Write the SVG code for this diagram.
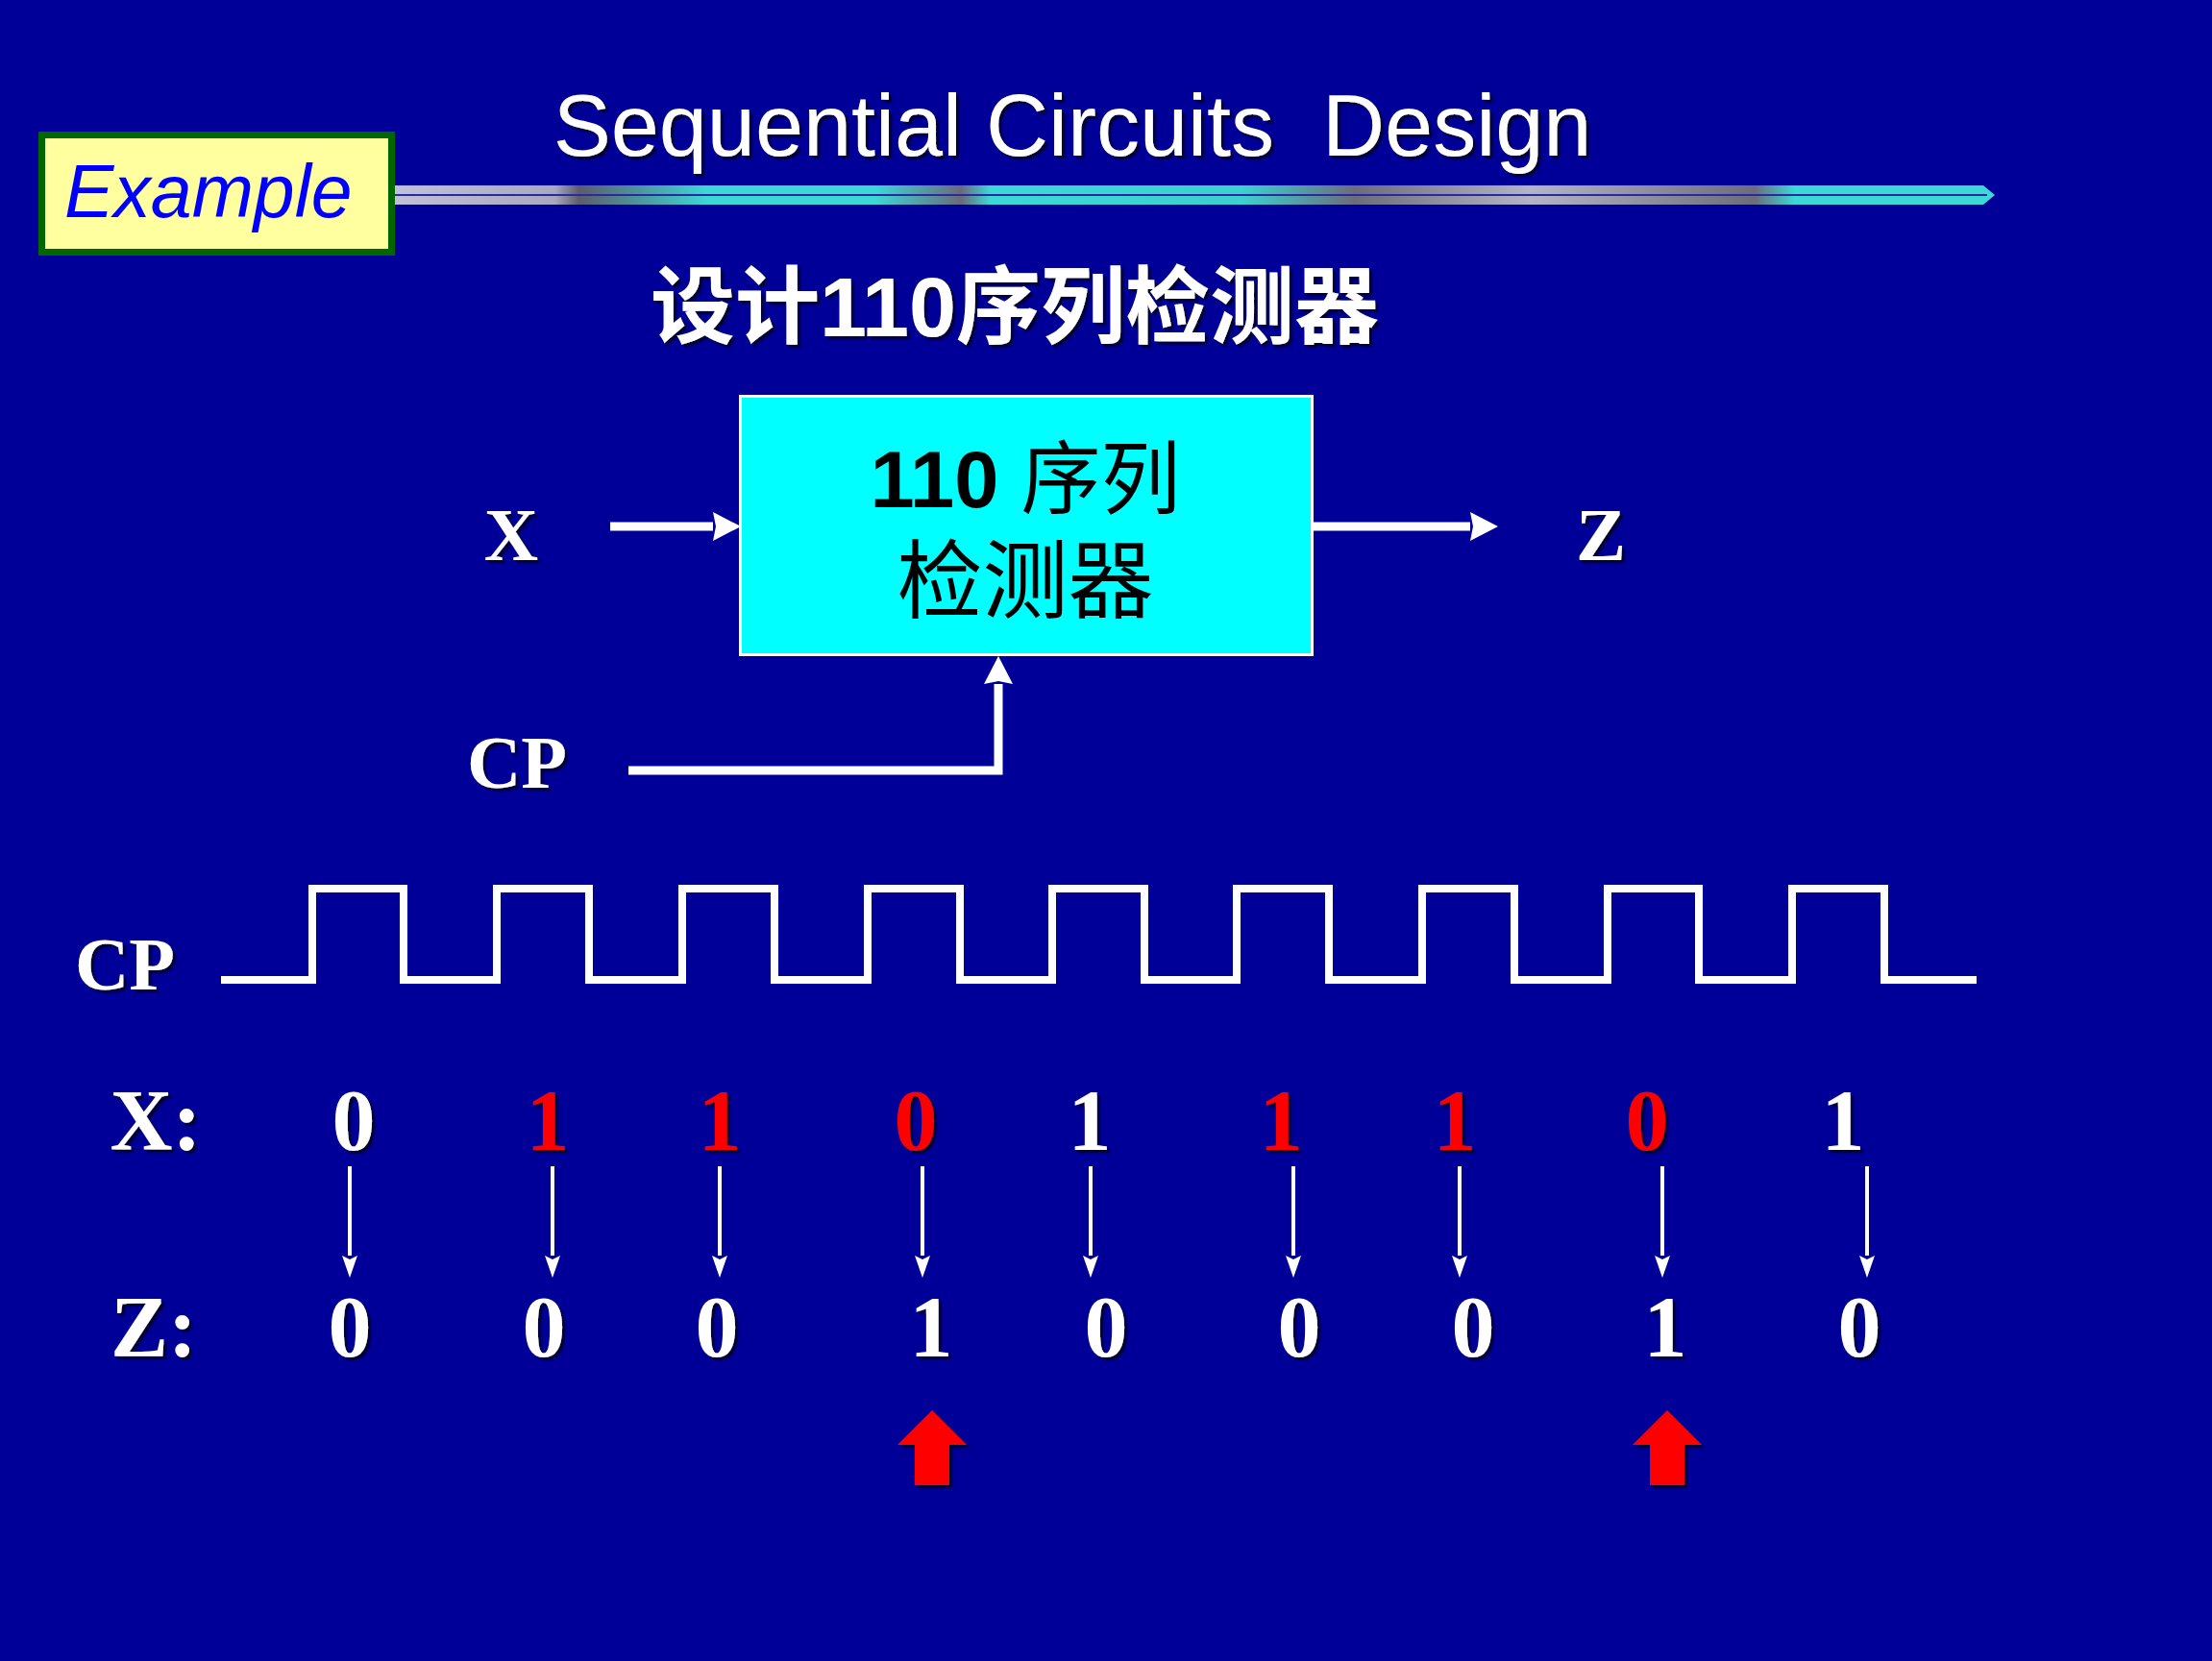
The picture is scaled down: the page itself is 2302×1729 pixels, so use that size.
<svg xmlns="http://www.w3.org/2000/svg" width="2302" height="1729" viewBox="0 0 2302 1729">
<style>
.en{font-family:"Liberation Sans",Arial,sans-serif;}
.tm{font-family:"Liberation Serif","Times New Roman",serif;font-weight:bold;fill:#fff;}
.cjk{font-family:"Liberation Sans","Noto Sans CJK SC",sans-serif;}
.w{fill:#fff;}
.r{fill:#ff0000;}
.sh{filter:url(#shadow);}
.conn{stroke:#fff;fill:none;}
.big{stroke-width:9;}
.thin{stroke-width:4;}
.wave{stroke:#fff;stroke-width:8;fill:none;stroke-linejoin:miter;}
</style>
<defs>
<filter id="shadow" x="-20%" y="-20%" width="140%" height="140%">
<feDropShadow dx="3" dy="3" stdDeviation="1.2" flood-color="#000022" flood-opacity="0.85"/>
</filter>
<marker id="bigHead" markerUnits="userSpaceOnUse" markerWidth="30" markerHeight="32" refX="0" refY="15" orient="auto">
<path d="M0,0 L29,15 L0,30 L3,15 z" fill="#fff"/>
</marker>
<marker id="smallHead" markerUnits="userSpaceOnUse" markerWidth="24" markerHeight="18" refX="0" refY="8" orient="auto">
<path d="M0,0 L23,8 L0,16 L4,8 z" fill="#fff"/>
</marker>
<linearGradient id="barGrad" x1="411" y1="0" x2="2076" y2="0" gradientUnits="userSpaceOnUse">
<stop offset="0" stop-color="#c0c0d8"/>
<stop offset="0.10" stop-color="#a8a8c0"/>
<stop offset="0.115" stop-color="#5c5c6c"/>
<stop offset="0.196" stop-color="#3cd8d8"/>
<stop offset="0.30" stop-color="#3cd8d8"/>
<stop offset="0.354" stop-color="#6a6a7a"/>
<stop offset="0.372" stop-color="#3cd8d8"/>
<stop offset="0.53" stop-color="#3cd0d0"/>
<stop offset="0.60" stop-color="#6c6c7c"/>
<stop offset="0.71" stop-color="#b4b4c8"/>
<stop offset="0.85" stop-color="#6c6c7c"/>
<stop offset="0.875" stop-color="#3cd8d8"/>
<stop offset="1" stop-color="#3cd8d8"/>
</linearGradient>
</defs>

<rect x="0" y="0" width="2302" height="1729" fill="#000099"/>

<g id="title-bar">
<polygon points="411,193 2064,193 2076,203 2064,213 411,213" fill="url(#barGrad)"/>
<line x1="411" y1="203" x2="2068" y2="203" stroke="#2a2aa0" stroke-width="2"/>
</g>

<g id="example-tag">
<rect x="43.5" y="140.5" width="364" height="122" fill="#ffffa0" stroke="#006600" stroke-width="7"/>
<text x="67" y="226" class="en" font-size="77" font-style="italic" fill="#0000ff">Example</text>
</g>

<g id="title">
<text x="1116" y="162" class="en w sh" font-size="90" text-anchor="middle" xml:space="preserve">Sequential Circuits  Design</text>
</g>

<g id="subtitle">
<text x="1056" y="350" class="cjk w sh" font-size="88" font-weight="bold" text-anchor="middle">设计110序列检测器</text>
</g>

<g id="detector">
<rect x="770.5" y="412.5" width="595" height="269" fill="#00ffff" stroke="#fff" stroke-width="3"/>
<text x="1067" y="528" class="cjk" font-size="83" text-anchor="middle" fill="#000"><tspan font-weight="bold">110 </tspan>序列</text>
<text x="1067" y="636" class="cjk" font-size="89" text-anchor="middle" fill="#000">检测器</text>
</g>

<g id="label-x"><text x="532" y="583" class="tm sh" font-size="78" text-anchor="middle">X</text></g>
<g id="label-z"><text x="1666" y="583" class="tm sh" font-size="78" text-anchor="middle">Z</text></g>
<g id="label-cp"><text x="538" y="820" class="tm sh" font-size="78" text-anchor="middle">CP</text></g>

<g id="connectors">
<line class="conn big" x1="635" y1="548" x2="742" y2="548" marker-end="url(#bigHead)"/>
<line class="conn big" x1="1367" y1="548" x2="1530" y2="548" marker-end="url(#bigHead)"/>
<path class="conn big" d="M654,802 H1039 V712" marker-end="url(#bigHead)"/>
<g id="xz-arrows">
<line class="conn thin" x1="364" y1="1214" x2="364" y2="1307" marker-end="url(#smallHead)"/>
<line class="conn thin" x1="575" y1="1214" x2="575" y2="1307" marker-end="url(#smallHead)"/>
<line class="conn thin" x1="749" y1="1214" x2="749" y2="1307" marker-end="url(#smallHead)"/>
<line class="conn thin" x1="960" y1="1214" x2="960" y2="1307" marker-end="url(#smallHead)"/>
<line class="conn thin" x1="1135" y1="1214" x2="1135" y2="1307" marker-end="url(#smallHead)"/>
<line class="conn thin" x1="1346" y1="1214" x2="1346" y2="1307" marker-end="url(#smallHead)"/>
<line class="conn thin" x1="1519" y1="1214" x2="1519" y2="1307" marker-end="url(#smallHead)"/>
<line class="conn thin" x1="1730" y1="1214" x2="1730" y2="1307" marker-end="url(#smallHead)"/>
<line class="conn thin" x1="1943" y1="1214" x2="1943" y2="1307" marker-end="url(#smallHead)"/>
</g>
</g>

<g id="clock-waveform">
<text x="130" y="1030" class="tm sh" font-size="78" text-anchor="middle">CP</text>
<path class="wave" d="M230,1020 H325 V925 H420 V1020 H517 V925 H613 V1020 H710 V925 H806 V1020 H903 V925 H999 V1020 H1095 V925 H1191 V1020 H1287 V925 H1383 V1020 H1480 V925 H1576 V1020 H1673 V925 H1768 V1020 H1865 V925 H1961 V1020 H2057"/>
</g>

<g id="x-sequence" class="tm sh" font-size="90" text-anchor="middle">
<text x="162" y="1197">X:</text>
<text x="368" y="1197">0</text>
<text x="570" y="1197" class="r">1</text>
<text x="749" y="1197" class="r">1</text>
<text x="953" y="1197" class="r">0</text>
<text x="1134" y="1197">1</text>
<text x="1333" y="1197" class="r">1</text>
<text x="1514" y="1197" class="r">1</text>
<text x="1714" y="1197" class="r">0</text>
<text x="1918" y="1197">1</text>
</g>

<g id="z-sequence" class="tm sh" font-size="90" text-anchor="middle">
<text x="160" y="1412">Z:</text>
<text x="364" y="1412">0</text>
<text x="566" y="1412">0</text>
<text x="746" y="1412">0</text>
<text x="969" y="1412">1</text>
<text x="1151" y="1412">0</text>
<text x="1352" y="1412">0</text>
<text x="1533" y="1412">0</text>
<text x="1733" y="1412">1</text>
<text x="1935" y="1412">0</text>
</g>

<g id="marker-arrow-1" class="sh">
<polygon points="970,1468 1006,1504 988,1504 988,1546 952,1546 952,1504 934,1504" fill="#ff0000"/>
</g>
<g id="marker-arrow-2" class="sh">
<polygon points="1735,1468 1771,1504 1753,1504 1753,1546 1717,1546 1717,1504 1699,1504" fill="#ff0000"/>
</g>
</svg>
